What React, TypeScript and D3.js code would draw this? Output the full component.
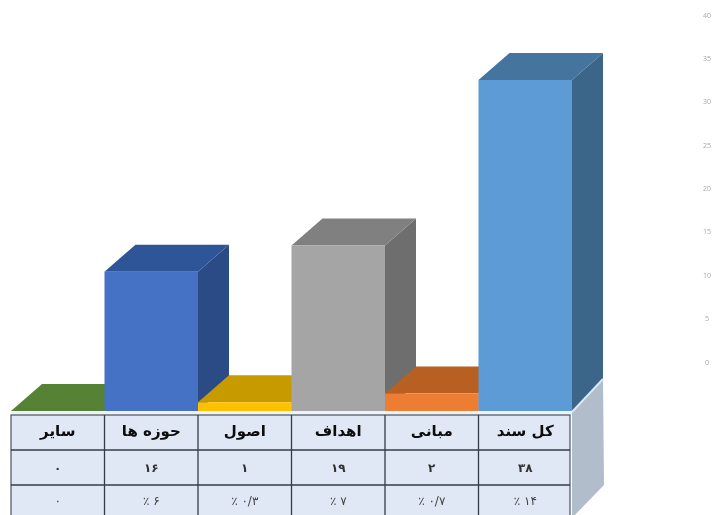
import React from "react";
import * as d3 from "d3";

const categories = ["سایر", "حوزه ها", "اصول", "اهداف", "مبانی", "کل سند"];
const counts = [0, 16, 1, 19, 2, 38];
const countLabels = ["۰", "۱۶", "۱", "۱۹", "۲", "۳۸"];
const percentLabels = ["۰", "۶ ٪", "۰/۳ ٪", "۷ ٪", "۰/۷ ٪", "۱۴ ٪"];
const axisTicks = [0, 5, 10, 15, 20, 25, 30, 35, 40];
const frontColors = ["#548235", "#4472C4", "#FFC000", "#A5A5A5", "#ED7D31", "#5B9BD5"];
const sideColors = ["#3f6328", "#2C4C86", "#BF9000", "#6E6E6E", "#B25E22", "#3A6689"];
const topColors = ["#548235", "#2F5597", "#C79A00", "#808080", "#B85F22", "#44749F"];

const W = 716, H = 515;
const dx = 31, dy = -27;
const x = d3.scaleBand<number>().domain(d3.range(categories.length)).range([11, 572]).paddingInner(0).paddingOuter(0);
const y = d3.scaleLinear().domain([0, 38]).range([411, 80]);
const axisY = d3.scaleLinear().domain([0, 40]).range([362, 15]);
const rowY = [415, 450, 485, 520];
const persian = '"DejaVu Sans", "Noto Sans", sans-serif';
const pts = (a: number[][]) => a.map((p) => p.join(",")).join(" ");

export default function App() {
  const bw = x.bandwidth();
  const tableL = x(0)!;
  const tableR = 570;
  return (
    <svg width={W} height={H} viewBox={`0 0 ${W} ${H}`} style={{ position: "absolute", left: 0, top: 0, background: "#fff" }}>
      <defs>
        <filter id="soft" x="-5%" y="-5%" width="110%" height="110%">
          <feGaussianBlur stdDeviation="0.5" />
        </filter>
      </defs>
      <g filter="url(#soft)">
        {counts.map((v, i) => {
          const l = x(i)!;
          const r = l + bw;
          const t = y(v);
          const b = y(0);
          return (
            <g key={i}>
              <polygon points={pts([[r, t], [r + dx, t + dy], [r + dx, b + dy], [r, b]])} fill={sideColors[i]} />
              <polygon points={pts([[l, t], [l + dx, t + dy], [r + dx, t + dy], [r, t]])} fill={topColors[i]} />
              <rect x={l} y={t} width={bw} height={b - t} fill={frontColors[i]} />
            </g>
          );
        })}
        <rect x={tableL} y={411} width={tableR - tableL + 2} height={4} fill="#eef3f8" />
        <polygon points={pts([[572, 412], [603, 379], [604, 485], [572, 518]])} fill="#B1BDCB" />
        <line x1={572} y1={412} x2={603} y2={379} stroke="#dbe7f2" strokeWidth={2} />
        <rect x={tableL} y={rowY[0]} width={tableR - tableL} height={H - rowY[0] + 5} fill="#DFE8F4" stroke="#4a5460" strokeWidth={1.2} />
        {rowY.slice(1, 3).map((ry) => (
          <line key={ry} x1={tableL} x2={tableR} y1={ry} y2={ry} stroke="#333c46" strokeWidth={1.6} />
        ))}
        {categories.slice(1).map((_, i) => (
          <line key={i} x1={x(i + 1)!} x2={x(i + 1)!} y1={rowY[0]} y2={H} stroke="#333c46" strokeWidth={1.3} />
        ))}
        {categories.map((c, i) => {
          const cx = x(i)! + bw / 2;
          return (
            <g key={c} textAnchor="middle" fontFamily={persian} direction="rtl">
              <text x={cx} y={436} fontSize={15} fontWeight={700} fill="#0c0c0c">{c}</text>
              <text x={cx} y={472} fontSize={12} fontWeight={700} fill="#333">{countLabels[i]}</text>
              <text x={cx} y={505} fontSize={12} fill="#444">{percentLabels[i]}</text>
            </g>
          );
        })}
        {axisTicks.map((t) => (
          <text key={t} x={707} y={axisY(t) + 2.5} textAnchor="middle" fontSize={7} fontFamily="'Open Sans', sans-serif" fill="#a6a6a6">{t}</text>
        ))}
      </g>
    </svg>
  );
}
